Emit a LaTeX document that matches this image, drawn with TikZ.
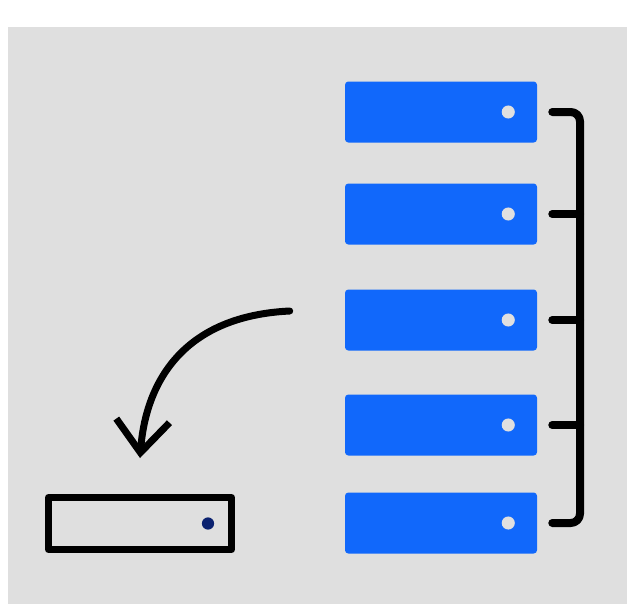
\documentclass[tikz,border=0pt]{standalone}
\usepackage{xcolor}
\usepackage{tikz}
\usetikzlibrary{calc}
\usetikzlibrary{arrows.meta}
\usetikzlibrary{positioning}

\definecolor{panelgray}{HTML}{DFDFDF}
\definecolor{diskblue}{HTML}{1168FB}
\definecolor{ledlight}{HTML}{E0E0E0}
\definecolor{lednavy}{HTML}{0B2270}

\tikzset{
  server/.style={fill=diskblue, rounded corners=2.5pt, minimum width=144pt, minimum height=45.75pt, inner sep=0pt},
  backup/.style={draw=black, line width=5.25pt, minimum width=137.25pt, minimum height=39pt, inner sep=0pt},
  wire/.style={line width=6pt},
  move/.style={line width=5.25pt, -{Straight Barb[length=24pt, width=40pt, line cap=butt]}}
}

\begin{document}
\begin{tikzpicture}[x=0.75pt, y=-0.75pt, line cap=round, line join=round]
  \useasboundingbox (0,0) rectangle (627,604);
  %--- Panel
    \fill[panelgray] (8,27) rectangle (627,604);
  %--- Server stack
    \foreach \y [count=\i] in {112,214,320,425,523} {
      \node[server] (s\i) at (441,\y) {};
      \fill[ledlight] ([xshift=-21.75pt]s\i.east) circle (4.9pt);
    }
  %--- Bracket
    \coordinate (bus) at (580,0);
    \draw[wire, rounded corners=7pt] ([xshift=11.25pt]s1.east) -| (bus |- s3.east) |- ([xshift=11.25pt]s5.east);
    \foreach \i in {2,3,4}
      \draw[wire] ([xshift=11.25pt]s\i.east) -- (bus |- s\i.east);
  %--- Backup drive
    \node[backup] (drv) at (140,523.5) {};
    \fill[lednavy] ([xshift=-20.25pt]drv.east) circle (4.6pt);
  %--- Copy arrow
    \coordinate (src) at ($(s3.west)+(-55,-9)$);
    \coordinate (dst) at ($(drv.north)+(0,-36)$);
    \draw[move] (src) .. controls (185,316) and (146,380) .. (dst);
\end{tikzpicture}
\end{document}
